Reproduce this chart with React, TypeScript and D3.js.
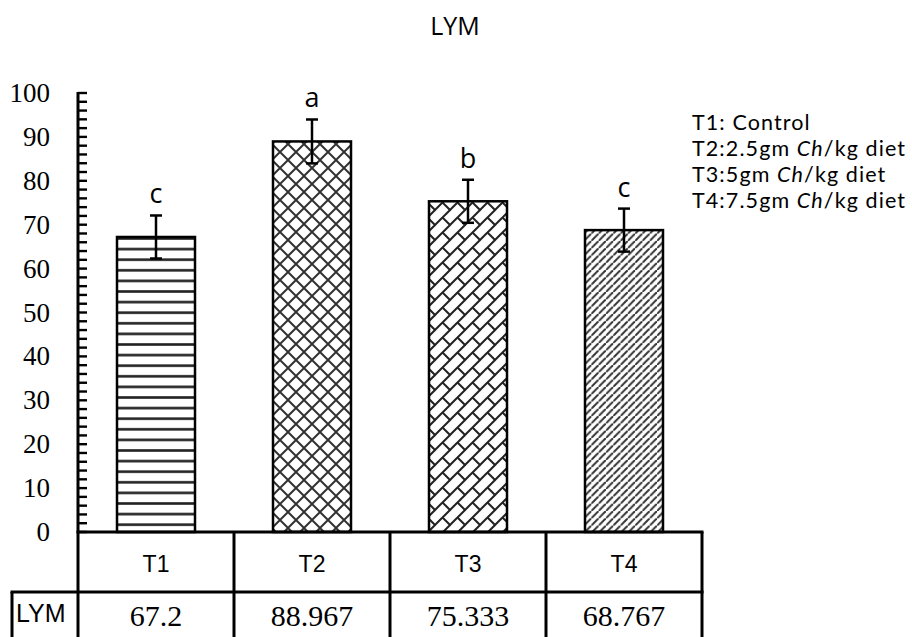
// @ts-nocheck
import * as d3 from 'd3';

const categories = ['T1', 'T2', 'T3', 'T4'];
const values = [67.2, 88.967, 75.333, 68.767];
const valueLabels = ['67.2', '88.967', '75.333', '68.767'];
const errors = [4.9, 5.0, 4.9, 4.9];
const letters = ['c', 'a', 'b', 'c'];
const patterns = ['hlines', 'diamond', 'brick', 'diag'];
const legendLines = [
  ['T1: Control', null, null],
  ['T2:2.5gm ', 'Ch', '/kg diet'],
  ['T3:5gm ', 'Ch', '/kg diet'],
  ['T4:7.5gm ', 'Ch', '/kg diet'],
];
const rowName = 'LYM';
const title = 'LYM';

const W = 912;
const H = 637;
const left = 78;
const right = 702;
const top = 93;
const base = 532;

export default function App() {
  const x = d3.scaleBand().domain(categories).range([left, right]).paddingInner(0.5).paddingOuter(0.25);
  const step = x.step();
  const y = d3.scaleLinear().domain([0, 100]).range([base, top]);
  const majors = y.ticks(10);
  const minors = y.ticks(50);
  const sans = '"Open Sans", sans-serif';
  const lato = 'Lato, "Open Sans", sans-serif';
  const arial = '"Liberation Sans", Arial, sans-serif';
  const serif = '"Liberation Serif", "Times New Roman", serif';
  const rowY = 592;
  const cellLeft = (i) => left + i * step;
  const d = 16; // diamond tile

  return (
    <svg width={W} height={H} style={{ position: 'absolute', left: 0, top: 0, background: '#fff' }}>
      <defs>
        <pattern id="hlines" patternUnits="userSpaceOnUse" width="10" height="10.6">
          <rect width="10" height="10.6" fill="#fff" />
          <line x1="0" x2="10" y1="5.3" y2="5.3" stroke="#222" strokeWidth="2.6" />
        </pattern>
        <pattern id="diamond" patternUnits="userSpaceOnUse" width={d} height={d}>
          <rect width={d} height={d} fill="#fff" />
          <line x1="0" y1="0" x2={d} y2={d} stroke="#333" strokeWidth="2" />
          <line x1="0" y1={d} x2={d} y2="0" stroke="#333" strokeWidth="2" />
        </pattern>
        <pattern id="brick" patternUnits="userSpaceOnUse" width="15" height="15">
          <rect width="15" height="15" fill="#fff" />
          <line x1="-1" y1="16" x2="16" y2="-1" stroke="#222" strokeWidth="2" />
          <line x1="7.5" y1="7.5" x2="15" y2="15" stroke="#222" strokeWidth="2" />
          <line x1="0" y1="0" x2="0.8" y2="0.8" stroke="#222" strokeWidth="2" />
        </pattern>
        <pattern id="diag" patternUnits="userSpaceOnUse" width="7.3" height="7.3">
          <rect width="7.3" height="7.3" fill="#fff" />
          <line x1="-1" y1="8.3" x2="8.3" y2="-1" stroke="#333" strokeWidth="2" />
          <line x1="-2" y1="1" x2="1" y2="-2" stroke="#333" strokeWidth="2" />
          <line x1="6.3" y1="9.3" x2="9.3" y2="6.3" stroke="#333" strokeWidth="2" />
        </pattern>
      </defs>

      <text x={455} y={35} textAnchor="middle" fontFamily={sans} fontSize={25}>{title}</text>

      {/* bars */}
      {categories.map((c, i) => (
        <rect key={c} x={x(c)} y={y(values[i])} width={x.bandwidth()} height={base - y(values[i])}
          fill={`url(#${patterns[i]})`} stroke="#000" strokeWidth={2.5} />
      ))}

      {/* error bars */}
      {categories.map((c, i) => {
        const cx = x(c) + x.bandwidth() / 2;
        const y1 = y(values[i] + errors[i]);
        const y2 = y(values[i] - errors[i]);
        return (
          <g key={c} stroke="#000" strokeWidth={2.5}>
            <line x1={cx} x2={cx} y1={y1} y2={y2} />
            <line x1={cx - 6} x2={cx + 6} y1={y1} y2={y1} />
            <line x1={cx - 6} x2={cx + 6} y1={y2} y2={y2} />
          </g>
        );
      })}

      {/* letters */}
      {categories.map((c, i) => (
        <text key={c} x={x(c) + x.bandwidth() / 2} y={y(values[i] + errors[i]) - 12}
          textAnchor="middle" fontFamily={sans} fontSize={27}>{letters[i]}</text>
      ))}

      {/* y axis */}
      <line x1={left} x2={left} y1={top - 1} y2={base} stroke="#000" strokeWidth={3} />
      {minors.map((t) => (
        <line key={t} x1={left} x2={left + 9} y1={y(t)} y2={y(t)} stroke="#000" strokeWidth={2.4} />
      ))}
      {majors.map((t) => (
        <text key={t} x={50} y={y(t) + 9} textAnchor="end" fontFamily={serif} fontSize={27}>{t}</text>
      ))}

      {/* table */}
      <g stroke="#000" strokeWidth={3}>
        <line x1={left - 1.5} x2={right + 1.5} y1={base} y2={base} />
        <line x1={10.5} x2={right + 1.5} y1={rowY} y2={rowY} />
        <line x1={12} x2={12} y1={rowY} y2={H} />
        {d3.range(categories.length + 1).map((k) => (
          <line key={k} x1={cellLeft(k)} x2={cellLeft(k)} y1={base} y2={H} />
        ))}
      </g>
      {categories.map((c, i) => (
        <text key={c} x={cellLeft(i) + step / 2} y={572} textAnchor="middle" fontFamily={arial} fontSize={23}>{c}</text>
      ))}
      <text x={16} y={622} fontFamily={arial} fontSize={25}>{rowName}</text>
      {categories.map((c, i) => (
        <text key={c} x={cellLeft(i) + step / 2} y={626} textAnchor="middle" fontFamily={serif} fontSize={30}>{valueLabels[i]}</text>
      ))}

      {/* legend */}
      {legendLines.map((l, i) => (
        <text key={i} x={692} y={130 + i * 26} fontFamily={lato} fontSize={21.5} letterSpacing={1.1}>
          {l[0]}
          {l[1] && <tspan fontStyle="italic">{l[1]}</tspan>}
          {l[2] && <tspan>{l[2]}</tspan>}
        </text>
      ))}
    </svg>
  );
}
